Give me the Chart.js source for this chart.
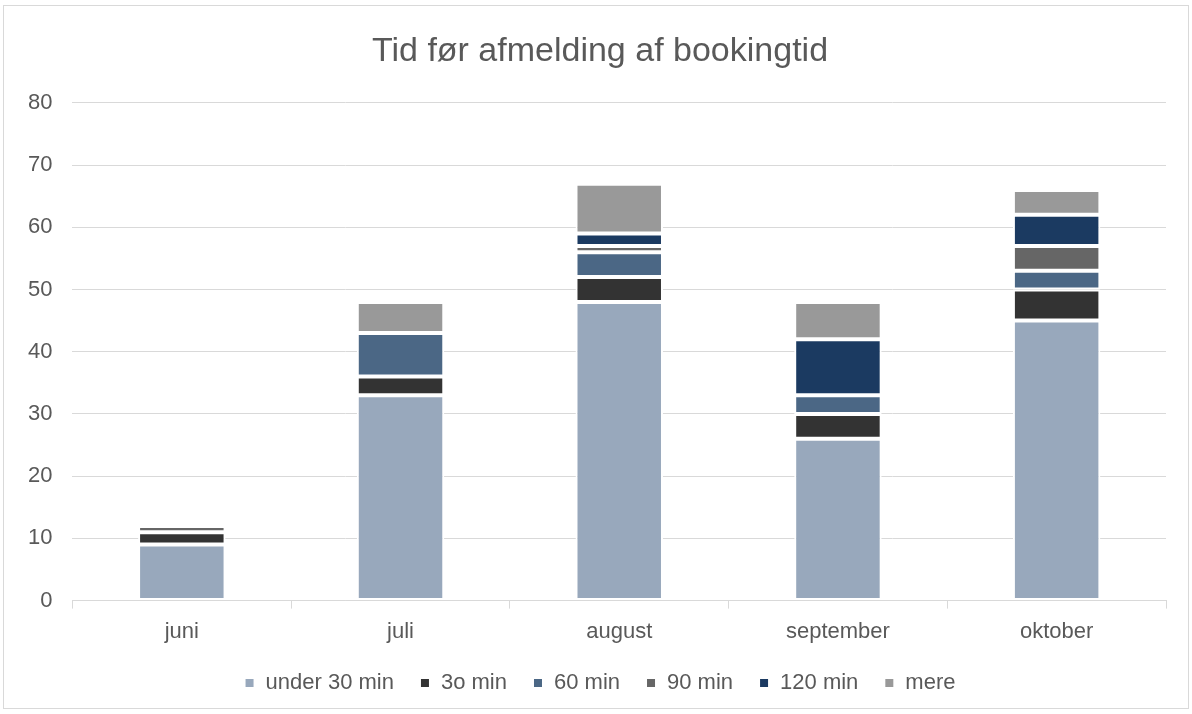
<!DOCTYPE html>
<html><head><meta charset="utf-8">
<script src="https://cdn.jsdelivr.net/npm/chart.js@4/dist/chart.umd.min.js"></script>
<style>
html,body{margin:0;padding:0;background:#fff;overflow:hidden;}
#wrap{position:absolute;left:3px;top:5px;width:1186px;height:704px;border:1px solid #d9d9d9;box-sizing:border-box;}
#c{position:absolute;left:0;top:0;}
</style></head>
<body>
<div id="wrap"><canvas id="c" width="1188" height="702"></canvas></div>
<script>
const categories = ["juni","juli","august","september","oktober"];
const under30 = [9,33,48,26,45];
const min30   = [2,3,4,4,5];
const min60   = [0,7,4,3,3];
const min90   = [1,0,1,0,4];
const min120  = [0,0,2,9,5];
const mere    = [0,5,8,6,4];
const seriesNames = ["under 30 min","3o min","60 min","90 min","120 min","mere"];
const colors = ["#98a8bc","#333333","#4b6785","#666666","#1b3a61","#999999"];
const FONT = "'Liberation Sans',Arial,sans-serif";

const seriesData = [under30,min30,min60,min90,min120,mere];
const datasets = seriesData.map((d,i)=>({
  label: seriesNames[i],
  data: d,
  backgroundColor: colors[i],
  borderColor: "#ffffff",
  borderWidth: 2,
  borderSkipped: false,
  barPercentage: 0.4,
  categoryPercentage: 1.0
}));

new Chart(document.getElementById('c'), {
  type: 'bar',
  data: { labels: categories, datasets },
  options: {
    responsive: false,
    animation: false,
    layout: { padding: { left: 4, right: 0, top: 14, bottom: 4 } },
    plugins: {
      title: { display: true, text: "Tid før afmelding af bookingtid", color: "#595959",
        font: { family: FONT, size: 34, weight: 'normal' }, padding: { top: 11, bottom: 31 } },
      legend: { position: 'bottom', labels: { color: "#595959", usePointStyle: true, pointStyle: 'rect',
        boxWidth: 10, boxHeight: 10, padding: 26, font: { family: FONT, size: 22 } } },
      tooltip: { enabled: false }
    },
    scales: {
      x: { stacked: true, offset: true,
        afterFit: (s) => { s.height -= 9; },
        grid: { offset: true, drawOnChartArea: false, drawTicks: true, tickLength: 8, color: "#d9d9d9" },
        border: { color: "#d9d9d9" },
        ticks: { color: "#595959", padding: 10, font: { family: FONT, size: 22 } } },
      y: { stacked: true, min: 0, max: 80,
        grid: { color: "#d9d9d9", drawTicks: false },
        border: { display: false },
        ticks: { stepSize: 10, color: "#595959", padding: 20, font: { family: FONT, size: 22 } } },
      yRight: { type: 'linear', position: 'right', display: true,
        afterFit: (s) => { s.width = 26; },
        grid: { display: false, drawTicks: false }, border: { display: false },
        ticks: { display: false } }
    }
  }
});
</script>
</body></html>
